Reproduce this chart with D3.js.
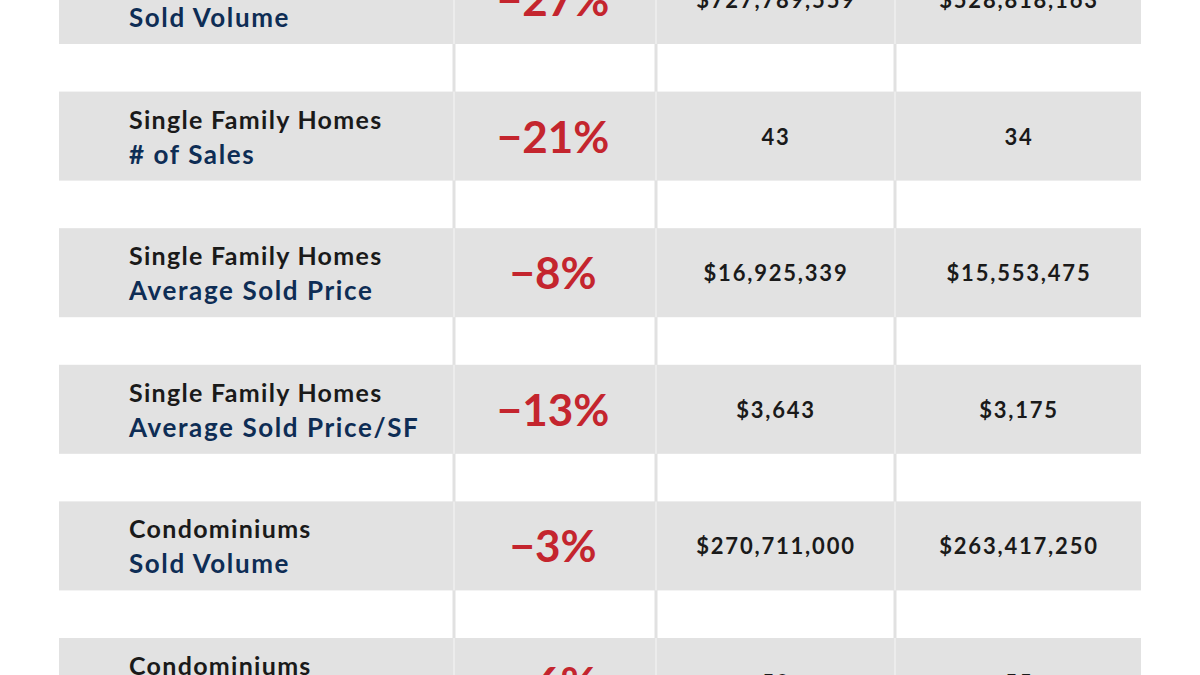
<!DOCTYPE html>
<html><head><meta charset="utf-8">
<script src="https://cdn.jsdelivr.net/npm/d3@7"></script>
<style>body{margin:0;background:#fff;overflow:hidden}svg{display:block}</style>
</head><body><svg width="1200" height="675"></svg>
<script>
const categories = ["Single Family Homes","Single Family Homes","Single Family Homes","Single Family Homes","Condominiums","Condominiums"];
const metrics = ["Sold Volume","# of Sales","Average Sold Price","Average Sold Price/SF","Sold Volume","# of Sales"];
const changes = ["−27%","−21%","−8%","−13%","−3%","−6%"];
const period1 = ["$727,789,559","43","$16,925,339","$3,643","$270,711,000","59"];
const period2 = ["$528,818,163","34","$15,553,475","$3,175","$263,417,250","55"];

const svg = d3.select("svg");
const idx = d3.range(categories.length);
const y = d3.scaleLinear().domain([0, 1]).range([-45, 91.6]);
const h = 89;
const cols = [59, 454, 656, 895, 1141];
const font = "Lato, 'Open Sans', sans-serif";

svg.selectAll("line.v").data(cols.slice(1,4)).join("line")
  .attr("x1", d=>d).attr("x2", d=>d).attr("y1",0).attr("y2",675)
  .attr("stroke","#e1e1e1").attr("stroke-width",3);

const g = svg.selectAll("g.row").data(idx).join("g").attr("transform", i=>`translate(0,${y(i)})`);
g.append("rect").attr("x",59).attr("width",1082).attr("height",h).attr("fill","#e2e2e2");
g.selectAll("line").data(cols.slice(1,4)).join("line")
  .attr("x1",d=>d).attr("x2",d=>d).attr("y1",0).attr("y2",h).attr("stroke","#ececec").attr("stroke-width",2);

g.append("text").attr("x",129).attr("y",37).text(i=>categories[i])
  .attr("font-family",font).attr("font-weight",700).attr("font-size",25).attr("letter-spacing",1.3).attr("fill","#1a1a1a");
g.append("text").attr("x",129).attr("y",72).text(i=>metrics[i])
  .attr("font-family",font).attr("font-weight",700).attr("font-size",26).attr("letter-spacing",1.6).attr("fill","#0e2d55");
g.append("text").attr("x",553).attr("y",61).attr("text-anchor","middle").text(i=>changes[i])
  .attr("font-family",font).attr("font-weight",700).attr("font-size",44).attr("fill","#c4252e");
g.append("text").attr("x",776).attr("y",53).attr("text-anchor","middle").text(i=>period1[i])
  .attr("font-family",font).attr("font-weight",700).attr("font-size",22).attr("letter-spacing",1.8).attr("fill","#1a1a1a");
g.append("text").attr("x",1019).attr("y",53).attr("text-anchor","middle").text(i=>period2[i])
  .attr("font-family",font).attr("font-weight",700).attr("font-size",22).attr("letter-spacing",1.8).attr("fill","#1a1a1a");
</script></body></html>
